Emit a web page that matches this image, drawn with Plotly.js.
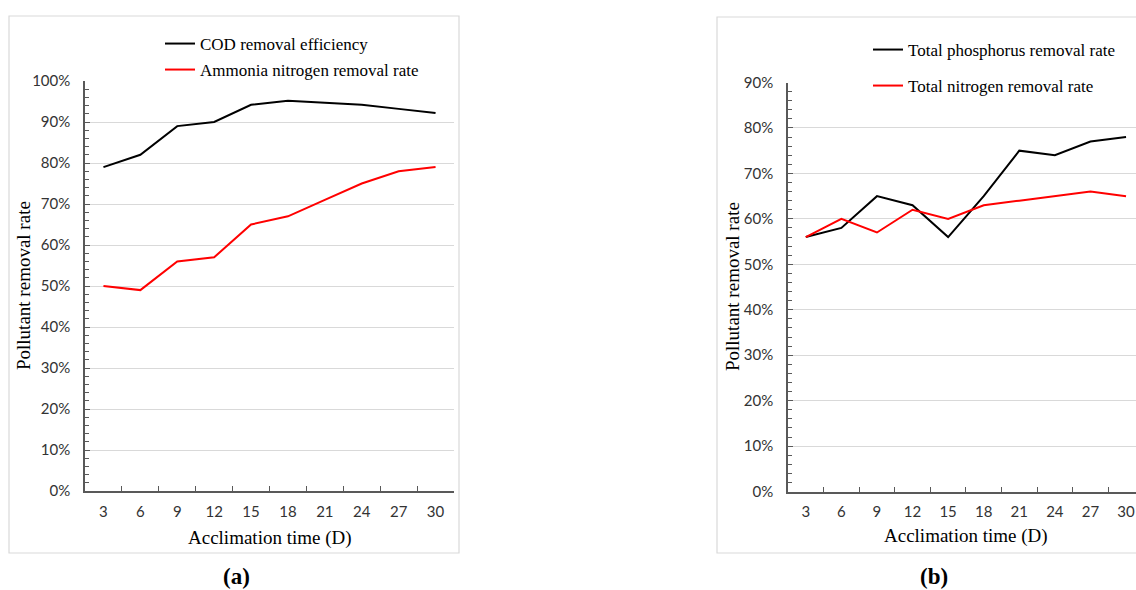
<!DOCTYPE html>
<html><head><meta charset="utf-8">
<script src="https://cdn.plot.ly/plotly-3.0.1.min.js"></script>
<style>html,body{margin:0;padding:0;background:#fff}#chart{width:1136px;height:590px}</style>
</head><body><div id="chart"></div>
<script>
// ---- data ----
const days = ['3','6','9','12','15','18','21','24','27','30'];
const codRemoval = [79, 82, 89, 90, 94.2, 95.2, 94.7, 94.2, 93.2, 92.2];
const ammoniaRemoval = [50, 49, 56, 57, 65, 67, 71, 75, 78, 79];
const phosphorusRemoval = [56, 58, 65, 63, 56, 65, 75, 74, 77, 78];
const nitrogenRemoval = [56, 60, 57, 62, 60, 63, 64, 65, 66, 65];
const seriesNames = ['COD removal efficiency', 'Ammonia nitrogen removal rate',
                     'Total phosphorus removal rate', 'Total nitrogen removal rate'];
const xTitle = 'Acclimation time (D)';
const yTitle = 'Pollutant removal rate';
const panelLabels = ['(a)', '(b)'];

// ---- layout helpers ----
const W = 1136, H = 590;
const px = v => v / W;
const py = v => 1 - v / H;
const SERIF = 'Liberation Serif, Times New Roman, serif';
const SANS = 'Lato, Liberation Sans, sans-serif';
const AX = '#595959';

function lineTrace(y, name, color, xa, ya, leg) {
  return { x: days, y: y, name: name, type: 'scatter', mode: 'lines',
           line: { color: color, width: 2 }, xaxis: xa, yaxis: ya,
           legend: leg, hoverinfo: 'x+y+name' };
}
const data = [
  lineTrace(codRemoval, seriesNames[0], '#000000', 'x', 'y', 'legend'),
  lineTrace(ammoniaRemoval, seriesNames[1], '#ff0000', 'x', 'y', 'legend2'),
  lineTrace(phosphorusRemoval, seriesNames[2], '#000000', 'x2', 'y2', 'legend3'),
  lineTrace(nitrogenRemoval, seriesNames[3], '#ff0000', 'x2', 'y2', 'legend4')
];

function xAxis(domain, range, anchor) {
  return { domain: domain, anchor: anchor, type: 'category', range: range,
           tickson: 'boundaries', ticks: 'inside', ticklen: 5, tickwidth: 1.2, tickcolor: AX,
           showline: true, linecolor: AX, linewidth: 1.5, showgrid: false, zeroline: false,
           tickfont: { family: SANS, size: 15, color: '#333' }, ticklabelstandoff: 6,
           fixedrange: true };
}
function yAxis(domain, max, anchor) {
  return { domain: domain, anchor: anchor, range: [0, max], dtick: 10, tick0: 0,
           ticksuffix: '%', ticks: 'inside', ticklen: 5, tickwidth: 1.2, tickcolor: AX,
           minor: { dtick: 2, ticks: 'inside', ticklen: 4, tickcolor: AX, showgrid: false },
           showline: true, linecolor: AX, linewidth: 1.5, showgrid: true, gridcolor: '#d9d9d9',
           gridwidth: 1, zeroline: false,
           tickfont: { family: SANS, size: 15, color: '#333' }, ticklabelstandoff: 10,
           fixedrange: true };
}
function legendAt(x, y) {
  return { x: px(x), y: py(y), xanchor: 'left', yanchor: 'middle', bgcolor: 'rgba(0,0,0,0)',
           font: { family: SERIF, size: 17, color: '#000' } };
}
function ann(text, x, y, size, extra) {
  return Object.assign({ text: text, x: px(x), y: py(y), xref: 'paper', yref: 'paper',
           xanchor: 'center', yanchor: 'middle', showarrow: false,
           font: { family: SERIF, size: size, color: '#000' } }, extra || {});
}

const layout = {
  width: W, height: H, margin: { l: 0, r: 0, t: 0, b: 0 },
  paper_bgcolor: '#fff', plot_bgcolor: 'rgba(0,0,0,0)',
  font: { family: SERIF },
  xaxis: xAxis([px(85), px(454)], [-0.5, 9.5], 'y'),
  yaxis: yAxis([py(491), py(81)], 100, 'x'),
  xaxis2: xAxis([px(788), 1], [-0.5, 9.28], 'y2'),
  yaxis2: yAxis([py(491.6), py(82.5)], 90, 'x2'),
  legend: legendAt(160, 44),
  legend2: legendAt(160, 70),
  legend3: legendAt(868, 50),
  legend4: legendAt(868, 86),
  shapes: [
    { type: 'rect', xref: 'paper', yref: 'paper', x0: px(9), x1: px(459), y0: py(553), y1: py(16),
      line: { color: '#d9d9d9', width: 1.2 }, layer: 'below' },
    { type: 'rect', xref: 'paper', yref: 'paper', x0: px(717), x1: px(1140), y0: py(553), y1: py(17),
      line: { color: '#d9d9d9', width: 1.2 }, layer: 'below' }
  ],
  annotations: [
    ann(xTitle, 270, 538, 19),
    ann(yTitle, 23, 286, 19, { textangle: -90 }),
    ann(xTitle, 966, 536, 19),
    ann(yTitle, 732, 287, 19, { textangle: -90 }),
    ann('<b>' + panelLabels[0] + '</b>', 236, 576, 23),
    ann('<b>' + panelLabels[1] + '</b>', 934, 576, 23)
  ],
  showlegend: true
};

Plotly.newPlot('chart', data, layout, { displayModeBar: false });
</script>
</body></html>
